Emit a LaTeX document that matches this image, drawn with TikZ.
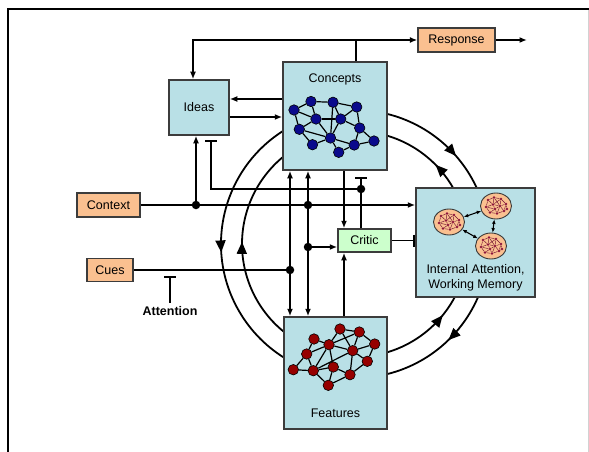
\documentclass[tikz,border=0pt]{standalone}
\usepackage{fontspec}
\setmainfont{Liberation Sans}
\usetikzlibrary{arrows.meta,decorations.markings,shapes.geometric,calc}
\definecolor{boxblue}{RGB}{185,224,230}
\definecolor{boxline}{RGB}{60,60,60}
\definecolor{orangebox}{RGB}{250,192,144}
\definecolor{criticgreen}{RGB}{204,255,204}
\definecolor{navynode}{RGB}{10,10,140}
\definecolor{rednode}{RGB}{150,0,0}
\definecolor{minidot}{RGB}{140,20,60}
\begin{document}
\begin{tikzpicture}[x=1pt,y=-1pt,
  font=\fontsize{12.5}{14.5}\selectfont,
  box/.style={draw=boxline, line width=1.5pt, fill=boxblue, inner sep=0pt},
  obox/.style={draw=boxline, line width=1.3pt, fill=orangebox, inner sep=0pt, minimum height=24pt},
  conn/.style={line width=1.8pt, black},
  arr/.style={conn, -{Latex[length=7.5pt,width=6pt]}},
  darr/.style={conn, {Latex[length=7.5pt,width=6pt]}-{Latex[length=7.5pt,width=6pt]}},
  tbar/.style={conn, -{Bar[width=12pt,line width=1.8pt]}},
  dotnode/.style={circle, fill=black, inner sep=0pt, minimum size=8.5pt},
  cnode/.style={circle, draw=black, line width=0.6pt, fill=navynode, inner sep=0pt, minimum size=10.5pt},
  fnode/.style={circle, draw=black, line width=0.6pt, fill=rednode, inner sep=0pt, minimum size=10.5pt},
  netedge/.style={line width=1.2pt, black},
  bigarc/.style={line width=1.8pt, black},
  midtri/.style={postaction={decorate, decoration={markings, mark=at position #1 with {\arrow{Triangle[length=12pt,width=10pt]}}}}},
  ellbox/.style={ellipse, draw=boxline, line width=0.9pt, fill=orangebox, inner sep=0pt, minimum width=31pt, minimum height=26pt},
  mdot/.style={circle, fill=minidot, inner sep=0pt, minimum size=2.8pt},
  miniedge/.style={line width=0.45pt, minidot!80!black},
  smallarr/.style={line width=1.1pt, {Latex[length=4.5pt,width=3.8pt]}-{Latex[length=4.5pt,width=3.8pt]}}
]
\useasboundingbox (0,0) rectangle (589,452);
\fill[white] (0,0) rectangle (589,452);

% frame
\draw[line width=2pt] (8,452) -- (8,9) -- (589,9);
\draw[gray!35, line width=0.8pt] (588,10) -- (588,452);

% big circular loops (drawn first, boxes cover their ends)
\coordinate (C) at (355,244);
\draw[bigarc, midtri=0.53] ($(C)+(240:134)$) arc[start angle=240, end angle=120, radius=134];
\draw[bigarc, midtri=0.66] ($(C)+(282:134)$) arc[start angle=282, end angle=338, radius=134];
\draw[bigarc, midtri=0.43] ($(C)+(20:134)$) arc[start angle=20, end angle=80, radius=134];
\draw[bigarc, midtri=0.51] ($(C)+(125:113)$) arc[start angle=125, end angle=235, radius=113];
\draw[bigarc, midtri=0.35] ($(C)+(333:113)$) arc[start angle=333, end angle=283, radius=113];
\draw[bigarc, midtri=0.73] ($(C)+(77:113)$) arc[start angle=77, end angle=25, radius=113];

% boxes
\node[box, minimum width=60pt, minimum height=55pt] (ideas) at (199,107.5) {Ideas};
\node[box, minimum width=104pt, minimum height=108pt] (concepts) at (335,116) {};
\node (conceptslabel) at (335,79) {Concepts};
\node[box, minimum width=103pt, minimum height=112pt] (features) at (335.5,373) {};
\node (featureslabel) at (335.5,413) {Features};
\node[box, minimum width=119pt, minimum height=109pt] (ia) at (475.5,242.5) {};
\node[align=center] (ialabel) at (475.5,278) {Internal Attention,\\Working Memory};
\node[box, fill=criticgreen, minimum width=53pt, minimum height=23pt] (critic) at (364.5,240.5) {Critic};
\node[obox, minimum width=77pt] (response) at (456.5,40) {Response};
\node[obox, minimum width=63pt] (context) at (108.5,205) {Context};
\node[obox, minimum width=46pt, minimum height=23pt] (cues) at (110,270) {Cues};
\node[font=\fontsize{12.5}{14.5}\selectfont\bfseries] (attention) at (170,311) {Attention};

% concept network
\foreach \n/\x/\y in {1/294/110, 2/311/101.5, 3/333/102.3, 4/356.7/107, 5/316/119, 6/340.7/119, 7/299.3/129.3, 8/359.7/128, 9/330.5/138, 10/312.5/144.7, 11/354.2/145, 12/374/141, 13/338.7/152.3}
  \node[cnode] (c\n) at (\x,\y) {};
\foreach \a/\b in {1/2, 2/3, 3/4, 1/5, 1/7, 2/5, 3/6, 3/9, 4/6, 4/8, 5/6, 5/7, 5/9, 6/8, 6/9, 7/9, 7/10, 9/10, 9/11, 9/13, 8/11, 8/12, 11/12, 11/13}
  \draw[netedge] (c\a) -- (c\b);

% feature network
\foreach \n/\x/\y in {1/340/329, 2/359.3/332, 3/314/339, 4/374.7/344, 5/329/344.7, 6/352.7/350.7, 7/306.7/354, 8/367.3/361.3, 9/333.3/367, 10/293.3/369.7, 11/313.3/370.7, 12/350/374.7, 13/328.3/385.3}
  \node[fnode] (f\n) at (\x,\y) {};
\foreach \a/\b in {1/2, 1/5, 1/6, 2/4, 2/5, 2/6, 3/5, 3/7, 4/6, 4/8, 5/6, 5/7, 5/9, 5/11, 6/8, 6/11, 6/12, 7/10, 7/11, 9/11, 9/12, 9/13, 10/11, 11/13, 12/13, 8/12}
  \draw[netedge] (f\a) -- (f\b);

% internal attention assemblies
\node[ellbox] (e1) at (449,222) {};
\node[ellbox] (e2) at (496,206) {};
\node[ellbox] (e3) at (491,246) {};
\foreach \e in {e1,e2,e3}{
  \begin{scope}[shift={(\e)}]
    \foreach \n/\x/\y in {1/-8/-6, 2/-2/-8.5, 3/5/-7, 4/10/-2, 5/-10/1, 6/-3/-1.5, 7/4/0, 8/-6/6.5, 9/1/7.5, 10/8/5, 11/-1/3, 12/11/3}
      \node[mdot] (\e p\n) at (\x,\y) {};
    \foreach \a/\b in {1/2, 2/3, 3/4, 1/5, 1/6, 2/6, 2/7, 3/7, 4/7, 4/10, 5/6, 5/8, 6/7, 6/11, 11/8, 11/9, 7/9, 7/10, 8/9, 9/10, 3/6, 4/12, 12/10, 11/7, 5/11}
      \draw[miniedge] (\e p\a) -- (\e p\b);
  \end{scope}
}
\draw[smallarr] (e1) -- (e2);
\draw[smallarr] (e2) -- (e3);
\draw[smallarr] (e1) -- (e3);

% junction coordinates
\coordinate (topL) at (193,40);
\coordinate (topC) at (356,40);
\coordinate (respEnd) at (527,40);
\coordinate (yA) at (0,99);
\coordinate (yB) at (0,117);
\coordinate (ctxA) at (196,205);
\coordinate (ctxB) at (308,205);
\coordinate (cueJ) at (290,270);
\coordinate (critJ) at (308,247);
\coordinate (inhJ) at (361,189);
\coordinate (inhL) at (211,189);
\coordinate (cx) at (344,0);
\coordinate (attTop) at (170,276);

% top loop and response
\draw[conn] (concepts.north -| topC) -- (topC);
\draw[arr] (topC) -- (topL) -- (topL |- ideas.north);
\draw[arr] (topC) -- (response.west);
\draw[arr] (response.east) -- (respEnd);

% ideas <-> concepts
\draw[arr] (concepts.west |- yA) -- (ideas.east |- yA);
\draw[arr] (ideas.east |- yB) -- (concepts.west |- yB);

% context
\draw[conn] (context.east) -- (ctxA) -- (ctxB);
\draw[arr] (ctxB) -- (ia.west |- ctxB);
\draw[arr] (ctxA) -- (ctxA |- ideas.south);

% critic inhibition
\draw[tbar] (inhJ) -- (inhL) -- ($(ideas.south -| inhL)+(0,4)$);
\draw[tbar] (critic.north -| inhJ) -- ($(concepts.south -| inhJ)+(0,6)$);

% concepts <-> features
\draw[darr] (concepts.south -| cueJ) -- (features.north -| cueJ);
\draw[darr] (concepts.south -| ctxB) -- (features.north -| ctxB);

% cues
\draw[conn] (cues.east) -- (cueJ);

% to critic
\draw[arr] (critJ) -- (critic.west |- critJ);
\draw[arr] (concepts.south -| cx) -- (critic.north -| cx);
\draw[arr] (features.north -| cx) -- (critic.south -| cx);
\draw[tbar] (critic.east) -- (ia.west |- critic.east);

% attention
\draw[tbar] (attention.north) -- (attTop);

% dots
\node[dotnode] (dA) at (ctxA) {};
\node[dotnode] (dB) at (ctxB) {};
\node[dotnode] (dC) at (cueJ) {};
\node[dotnode] (dD) at (critJ) {};
\node[dotnode] (dE) at (inhJ) {};
\end{tikzpicture}
\end{document}
